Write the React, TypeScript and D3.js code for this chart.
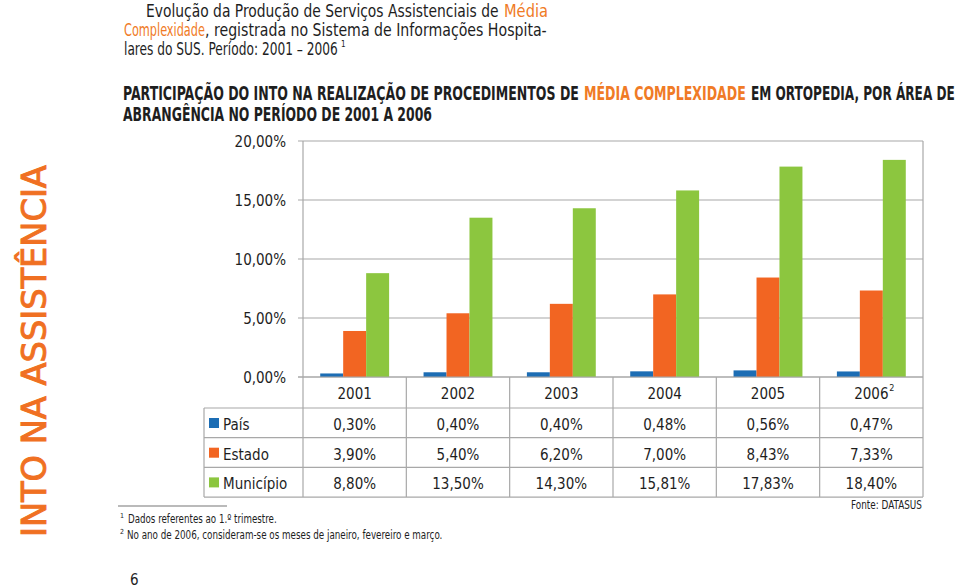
import React, { useLayoutEffect, useRef, useState } from "react";
import * as d3 from "d3";

const years = ["2001", "2002", "2003", "2004", "2005", "2006"];
const yearSup = ["", "", "", "", "", "2"];
const seriesNames = ["País", "Estado", "Município"];
const pais = [0.3, 0.4, 0.4, 0.48, 0.56, 0.47];
const estado = [3.9, 5.4, 6.2, 7.0, 8.43, 7.33];
const municipio = [8.8, 13.5, 14.3, 15.81, 17.83, 18.4];
const yTicks = [0, 5, 10, 15, 20];
const colors = ["#1c6db4", "#f26522", "#8cc63f"];

const W = 960;
const H = 588;
const FONT = "'Liberation Sans Narrow', 'DejaVu Sans Condensed', 'Roboto', sans-serif";
const ORANGE = "#f07b26";
const GRID = "#a8a8a8";
const INK = "#1e1e1e";

const locale = d3.formatLocale({ decimal: ",", thousands: ".", grouping: [3], currency: ["", ""] });
const fmt = (v: number) => locale.format(".2f")(v) + "%";

type Piece = { t: string; x: number; len: number; c: string };
const introLines: { y: number; pieces: Piece[] }[] = [
  {
    y: 17,
    pieces: [
      { t: "Evolução da Produção de Serviços Assistenciais de", x: 146, len: 353, c: INK },
      { t: "Média", x: 504, len: 44, c: ORANGE },
    ],
  },
  {
    y: 36,
    pieces: [
      { t: "Complexidade", x: 124, len: 81, c: ORANGE },
      { t: ", registrada no Sistema de Informações Hospita-", x: 205, len: 342, c: INK },
    ],
  },
  {
    y: 55,
    pieces: [{ t: "lares do SUS. Período: 2001 – 2006", x: 124, len: 214, c: INK }],
  },
];
const titleLines: { y: number; pieces: Piece[] }[] = [
  {
    y: 100,
    pieces: [
      { t: "PARTICIPAÇÃO DO INTO NA  REALIZAÇÃO DE PROCEDIMENTOS DE", x: 123, len: 456, c: INK },
      { t: "MÉDIA COMPLEXIDADE", x: 584, len: 162, c: ORANGE },
      { t: "EM ORTOPEDIA, POR ÁREA DE", x: 751, len: 204, c: INK },
    ],
  },
  {
    y: 121,
    pieces: [{ t: "ABRANGÊNCIA NO PERÍODO DE 2001 A 2006", x: 123, len: 309, c: INK }],
  },
];

type FitProps = {
  x: number;
  y: number;
  len: number;
  rotate?: number;
  children: React.ReactNode;
  [k: string]: any;
};

function FitText({ x, y, len, rotate = 0, children, ...rest }: FitProps) {
  const ref = useRef<SVGTextElement>(null);
  const [s, setS] = useState(1);
  useLayoutEffect(() => {
    if (ref.current) {
      const w = ref.current.getComputedTextLength();
      if (w > 0) setS(len / w);
    }
  }, [len, children]);
  return (
    <text ref={ref} transform={`translate(${x},${y}) rotate(${rotate}) scale(${s},1)`} {...rest}>
      {children}
    </text>
  );
}

export default function App() {
  const plotL = 303, plotR = 923, plotT = 141, plotB = 377;
  const x = d3.scaleBand<string>().domain(years).range([plotL, plotR]).paddingInner(0).paddingOuter(0);
  const xs = d3.scaleBand<string>().domain(seriesNames).range([0, x.bandwidth()]).paddingInner(0).paddingOuter(0.75);
  const y = d3.scaleLinear().domain([0, 20]).range([plotB, plotT]);
  const allSeries = [pais, estado, municipio];

  const rowTop = 408;
  const rowH = 29.7;
  const tableBottom = rowTop + rowH * 3;
  const tableL = 204;

  return (
    <svg width={W} height={H} style={{ position: "absolute", left: 0, top: 0, background: "#fff" }} fontFamily={FONT}>
      {/* intro text */}
      {introLines.map((ln, li) =>
        ln.pieces.map((p, pi) => (
          <FitText key={"i" + li + pi} x={p.x} y={ln.y} len={p.len} fontSize={17} fill={p.c}>
            {p.t}
          </FitText>
        ))
      )}
      <text x={341} y={47} fontSize={8} fill={INK}>1</text>

      {/* bold title */}
      {titleLines.map((ln, li) =>
        ln.pieces.map((p, pi) => (
          <FitText key={"t" + li + pi} x={p.x} y={ln.y} len={p.len} fontSize={19} fontWeight="bold" fill={p.c}>
            {p.t}
          </FitText>
        ))
      )}

      {/* vertical side label */}
      <FitText x={46} y={537} rotate={-90} len={372} fontSize={34} fill="#f07022" stroke="#f07022" strokeWidth={0.9}>
        INTO NA ASSISTÊNCIA
      </FitText>

      {/* grid lines */}
      {yTicks.map((t) => (
        <g key={t}>
          <line x1={plotL - 5} x2={plotR} y1={y(t)} y2={y(t)} stroke={GRID} strokeWidth={1.2} />
          <text x={286} y={y(t) + 6} fontSize={15} textAnchor="end" fill={INK}>
            {fmt(t)}
          </text>
        </g>
      ))}
      <line x1={plotL} x2={plotL} y1={plotT} y2={tableBottom} stroke={GRID} strokeWidth={1.2} />
      <line x1={plotR} x2={plotR} y1={plotT} y2={tableBottom} stroke={GRID} strokeWidth={1.2} />

      {/* bars */}
      {allSeries.map((vals, si) =>
        years.map((yr, i) => (
          <rect
            key={seriesNames[si] + yr}
            x={(x(yr) as number) + (xs(seriesNames[si]) as number)}
            width={xs.bandwidth()}
            y={y(vals[i])}
            height={plotB - y(vals[i])}
            fill={colors[si]}
          />
        ))
      )}
      <line x1={plotL - 5} x2={plotR} y1={plotB} y2={plotB} stroke={GRID} strokeWidth={1.2} />

      {/* data table */}
      {years.slice(1).map((yr) => (
        <line key={"v" + yr} x1={x(yr)} x2={x(yr)} y1={plotB} y2={tableBottom} stroke={GRID} strokeWidth={1.2} />
      ))}
      <line x1={tableL} x2={tableL} y1={rowTop} y2={tableBottom} stroke={GRID} strokeWidth={1.2} />
      {[0, 1, 2, 3].map((r) => (
        <line key={"h" + r} x1={tableL} x2={plotR} y1={rowTop + r * rowH} y2={rowTop + r * rowH} stroke={GRID} strokeWidth={1.2} />
      ))}
      {years.map((yr, i) => (
        <g key={"yl" + yr}>
          <text x={(x(yr) as number) + x.bandwidth() / 2} y={399} fontSize={15} textAnchor="middle" fill={INK}>
            {yr}
          </text>
          {yearSup[i] ? (
            <text x={(x(yr) as number) + x.bandwidth() / 2 + 18} y={391} fontSize={9} fill={INK}>
              {yearSup[i]}
            </text>
          ) : null}
        </g>
      ))}
      {seriesNames.map((name, si) => (
        <g key={"row" + name}>
          <rect x={209} y={rowTop + si * rowH + 10} width={10} height={10} fill={colors[si]} />
          <text x={223} y={rowTop + si * rowH + 22} fontSize={15} fill={INK}>
            {name}
          </text>
          {years.map((yr, i) => (
            <text
              key={name + yr}
              x={(x(yr) as number) + x.bandwidth() / 2}
              y={rowTop + si * rowH + 22}
              fontSize={15}
              textAnchor="middle"
              fill={INK}
            >
              {fmt(allSeries[si][i])}
            </text>
          ))}
        </g>
      ))}

      <FitText x={851} y={509} len={71} fontSize={12.5} fill={INK}>
        Fonte: DATASUS
      </FitText>

      {/* footnotes */}
      <line x1={118} x2={227} y1={506} y2={506} stroke="#777" strokeWidth={1.2} />
      <text x={120} y={518} fontSize={7} fill={INK}>1</text>
      <FitText x={128} y={523} len={149} fontSize={12.5} fill={INK}>
        Dados referentes ao 1.º trimestre.
      </FitText>
      <text x={120} y={534} fontSize={7} fill={INK}>2</text>
      <FitText x={127} y={539} len={316} fontSize={12.5} fill={INK}>
        No ano de 2006, consideram-se os meses de janeiro, fevereiro e março.
      </FitText>

      <text x={130} y={585} fontSize={15} fill={INK}>
        6
      </text>
    </svg>
  );
}
